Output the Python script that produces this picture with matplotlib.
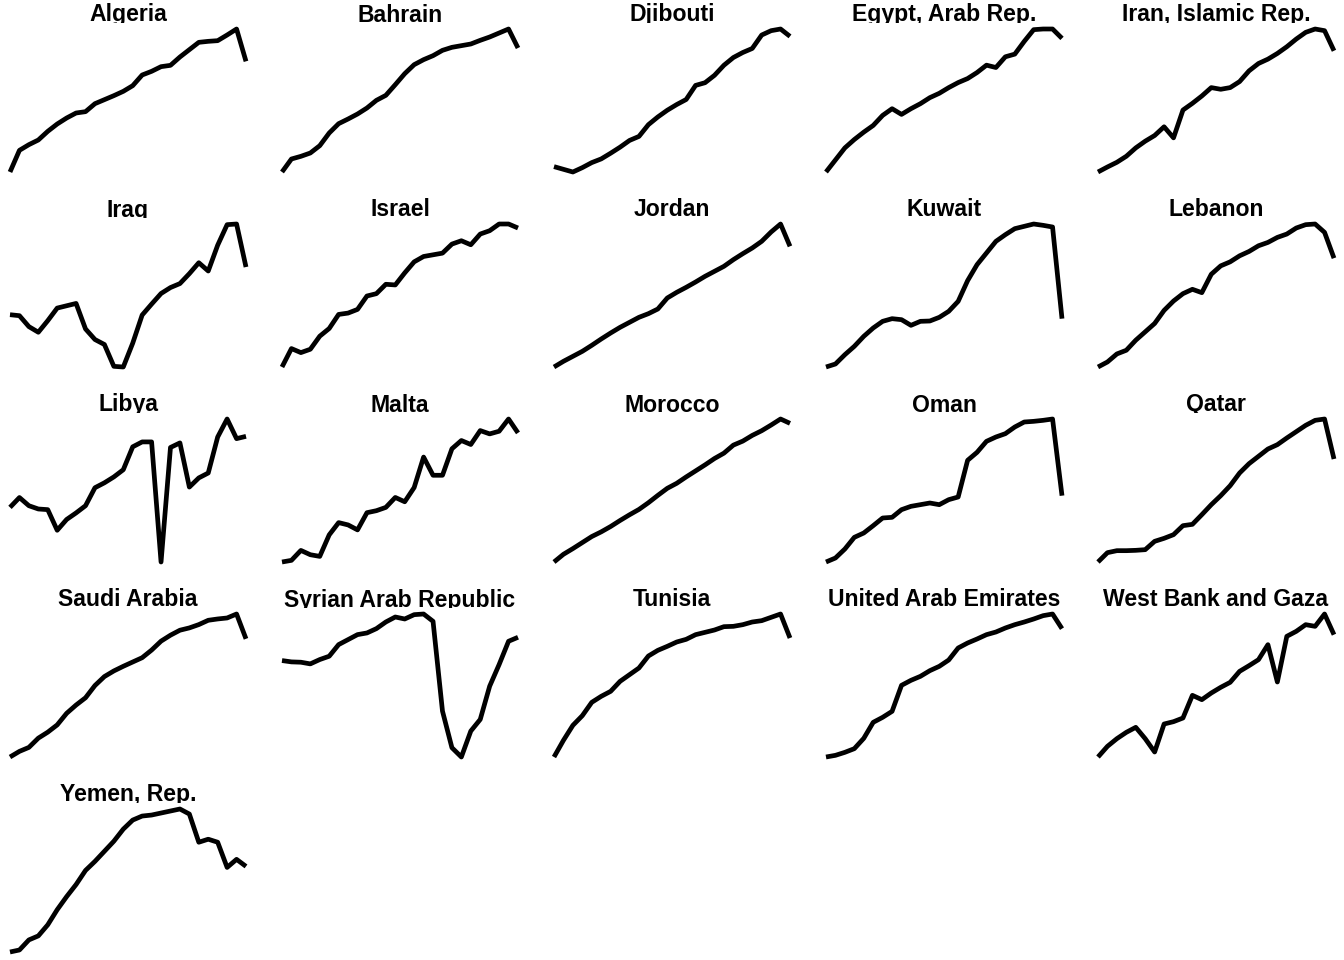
import matplotlib.pyplot as plt
from matplotlib.transforms import Bbox, TransformedBbox

years = list(range(1995, 2021))

countries = ['Algeria', 'Bahrain', 'Djibouti', 'Egypt, Arab Rep.', 'Iran, Islamic Rep.',
             'Iraq', 'Israel', 'Jordan', 'Kuwait', 'Lebanon',
             'Libya', 'Malta', 'Morocco', 'Oman', 'Qatar',
             'Saudi Arabia', 'Syrian Arab Republic', 'Tunisia', 'United Arab Emirates', 'West Bank and Gaza',
             'Yemen, Rep.']

algeria = [0, 65, 82, 96, 122, 144, 162, 177, 181, 205, 217, 229, 242, 259, 291, 302, 316, 320, 345, 367, 389, 392, 394, 411, 429, 332]
bahrain = [0, 39, 47, 57, 79, 117, 145, 159, 174, 192, 215, 230, 262, 295, 322, 337, 349, 365, 374, 379, 384, 395, 405, 417, 429, 372]
djibouti = [18, 10, 2, 15, 30, 41, 58, 76, 96, 108, 143, 166, 186, 203, 218, 260, 268, 290, 320, 343, 358, 370, 410, 423, 428, 406]
egypt = [0, 36, 72, 97, 119, 139, 169, 189, 172, 189, 204, 222, 235, 252, 267, 279, 297, 319, 312, 344, 352, 390, 425, 427, 427, 399]
iran = [0, 15, 29, 47, 72, 92, 109, 135, 102, 185, 205, 227, 252, 247, 252, 270, 302, 324, 337, 354, 374, 397, 417, 427, 422, 362]
iraq = [158, 155, 122, 105, 140, 178, 185, 192, 115, 83, 68, 2, 0, 72, 157, 190, 222, 240, 252, 282, 315, 290, 368, 430, 432, 302]
israel = [0, 55, 43, 53, 92, 115, 157, 161, 172, 212, 219, 247, 245, 281, 314, 330, 335, 340, 367, 377, 365, 397, 407, 427, 427, 415]
jordan = [0, 17, 32, 47, 65, 84, 102, 119, 134, 149, 160, 174, 207, 224, 239, 255, 272, 287, 302, 322, 340, 357, 377, 405, 429, 362]
kuwait = [0, 9, 37, 62, 92, 117, 137, 145, 142, 125, 137, 138, 149, 167, 197, 259, 307, 342, 377, 397, 415, 422, 429, 425, 420, 145]
lebanon = [0, 15, 39, 50, 80, 105, 130, 169, 197, 219, 232, 222, 277, 302, 314, 332, 345, 362, 372, 387, 397, 415, 425, 427, 402, 325]
libya = [167, 197, 172, 162, 160, 97, 130, 150, 172, 227, 242, 260, 282, 352, 367, 367, 0, 350, 364, 229, 257, 272, 382, 437, 377, 384]
malta = [0, 5, 35, 22, 17, 82, 119, 112, 97, 149, 155, 165, 195, 182, 225, 317, 262, 262, 342, 367, 355, 397, 387, 395, 432, 390]
morocco = [0, 23, 40, 58, 76, 90, 106, 124, 141, 157, 177, 199, 220, 235, 254, 272, 290, 309, 325, 349, 361, 378, 392, 409, 427, 414]
oman = [0, 12, 39, 74, 87, 109, 132, 134, 157, 167, 172, 177, 172, 187, 195, 305, 329, 362, 375, 385, 405, 420, 422, 425, 429, 199]
qatar = [0, 28, 34, 34, 35, 37, 62, 71, 82, 109, 113, 142, 172, 199, 229, 267, 295, 317, 339, 352, 372, 391, 410, 425, 429, 309]
saudi = [0, 17, 29, 57, 75, 97, 132, 157, 179, 216, 243, 260, 274, 287, 300, 323, 350, 368, 383, 390, 400, 413, 417, 420, 432, 357]
syria = [290, 286, 285, 280, 293, 303, 338, 353, 368, 373, 386, 406, 421, 415, 428, 430, 408, 138, 28, 0, 78, 113, 213, 278, 348, 360]
tunisia = [0, 50, 95, 124, 164, 182, 197, 227, 247, 267, 303, 320, 332, 345, 353, 367, 374, 381, 391, 392, 397, 405, 409, 419, 429, 357]
uae = [0, 5, 14, 25, 56, 104, 119, 137, 215, 230, 242, 259, 272, 291, 327, 342, 354, 367, 375, 387, 397, 405, 414, 424, 429, 385]
west_bank = [0, 32, 55, 74, 89, 55, 15, 99, 106, 117, 185, 172, 192, 209, 224, 257, 274, 292, 337, 225, 362, 377, 397, 392, 429, 367]
yemen = [0, 2, 12, 16, 27, 42, 55, 67, 81, 90, 100, 110, 122, 131, 135, 136, 138, 140, 142, 137, 109, 112, 109, 84, 92, 85]

series = [algeria, bahrain, djibouti, egypt, iran,
          iraq, israel, jordan, kuwait, lebanon,
          libya, malta, morocco, oman, qatar,
          saudi, syria, tunisia, uae, west_bank,
          yemen]

W, H = 1344, 960
fig = plt.figure(figsize=(W / 100, H / 100), dpi=100)

for k, (name, vals) in enumerate(zip(countries, series)):
    r, c = divmod(k, 5)
    left = 10 + 272 * c
    right = 246 + 272 * c
    top = 29 + 195 * r
    bottom = 172 + 195 * r
    ax = fig.add_axes([left / W, 1 - bottom / H, (right - left) / W, (bottom - top) / H])
    ax.plot(years, vals, color='black', lw=3.4, solid_joinstyle='round',
            solid_capstyle='butt', clip_on=False)
    ax.set_xlim(years[0], years[-1])
    ax.set_ylim(min(vals), max(vals))
    ax.axis('off')

    # strip title, descenders clipped like the original
    cx = (left + right) / 2
    t = fig.text(cx / W, 1 - (21.5 + 195 * r) / H, name, ha='center', va='baseline',
                 fontsize=16.6, fontweight='bold', family='Liberation Sans')
    clip = TransformedBbox(Bbox.from_extents(0, 1 - (22.5 + 195 * r) / H, 1, 1 - (195 * r) / H),
                           fig.transFigure)
    t.set_clip_box(clip)
    t.set_clip_on(True)

fig.savefig('out.png', dpi=100)
